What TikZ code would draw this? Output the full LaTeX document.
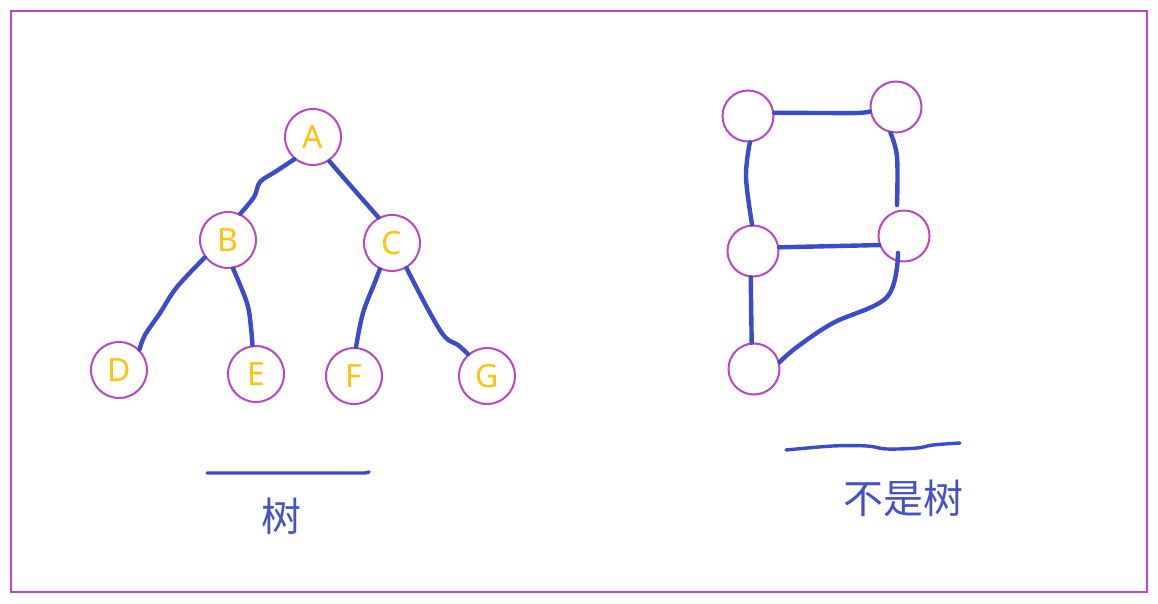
\documentclass[tikz,border=0pt]{standalone}
\usepackage{fontspec}
\setmainfont{Noto Sans}
\newfontfamily\cjk{Noto Sans CJK SC}
\definecolor{ringc}{HTML}{B848C4}
\definecolor{edgec}{HTML}{3B4BCB}
\definecolor{letc}{HTML}{FFC20E}
\definecolor{txtc}{HTML}{4452C6}
\tikzset{
  tnode/.style={circle,draw=ringc,line width=2pt,fill=white,minimum size=56pt,inner sep=0pt,
    text=letc,font=\fontsize{32}{32}\selectfont},
  gnode/.style={circle,draw=ringc,line width=2pt,fill=white,minimum size=51pt,inner sep=0pt},
  edge/.style={draw=edgec,line width=4.4pt,line cap=round,line join=round},
  lbl/.style={text=txtc,font=\cjk\fontsize{40}{40}\selectfont,inner sep=0pt}
}
\begin{document}
\begin{tikzpicture}[x=1pt,y=-1pt]
\useasboundingbox (0,0) rectangle (1158,604);
\fill[white] (0,0) rectangle (1158,604);
\draw[ringc,line width=2.4pt] (11,11) rectangle (1147,592);
% tree
\node[tnode] (A) at (313,137) {A};
\node[tnode] (B) at (228,240) {B};
\node[tnode] (C) at (392,243) {C};
\node[tnode] (D) at (119,370) {D};
\node[tnode] (E) at (256,374) {E};
\node[tnode] (F) at (354,376) {F};
\node[tnode] (G) at (487,376) {G};
\draw[edge] plot[smooth,tension=0.6] coordinates {(A.230) (275,172) (260,182) (254,197) (B.65)};
\draw[edge] plot[smooth,tension=0.6] coordinates {(A.304) (350,185) (C.118)};
\draw[edge] plot[smooth,tension=0.6] coordinates {(B.217) (177,287) (160,313) (145,335) (D.45)};
\draw[edge] plot[smooth,tension=0.6] coordinates {(B.280) (247,303) (251,328) (E.97)};
\draw[edge] plot[smooth,tension=0.6] coordinates {(C.245) (375,282) (363,313) (F.86)};
\draw[edge] plot[smooth,tension=0.6] coordinates {(C.300) (430,313) (445,337) (458,345) (G.131)};
% underline + label left
\draw[edge,line width=3.4pt] (207,473) -- (365,473) -- (369,472);
\node[lbl] (t1) at (281,516) {树};
% graph
\node[gnode] (N1) at (748,116) {};
\node[gnode] (N2) at (896,107) {};
\node[gnode] (N3) at (753,251) {};
\node[gnode] (N4) at (904,236) {};
\node[gnode] (N5) at (754,369) {};
\draw[edge] plot[smooth,tension=0.5] coordinates {(N1.7) (820,113) (858,113) (N2.190)};
\draw[edge] plot[smooth,tension=0.6] coordinates {(N1.274) (746,177) (N3.92)};
\draw[edge] plot[smooth,tension=0.6] coordinates {(N2.258) (897,157) (897,205)};
\draw[edge] (N3.8) -- (N4.200);
\draw[edge] (N3.265) -- (N5.95);
\draw[edge] plot[smooth,tension=0.6] coordinates {(898,253) (887,297) (833,323) (797,347) (N5.15)};
% underline + label right
\draw[edge,line width=3.4pt] plot[smooth,tension=0.6] coordinates {(786,450) (833,446) (867,446) (887,449) (917,448) (933,445) (960,443)};
\node[lbl] (t2) at (903,498) {不是树};
\end{tikzpicture}
\end{document}
